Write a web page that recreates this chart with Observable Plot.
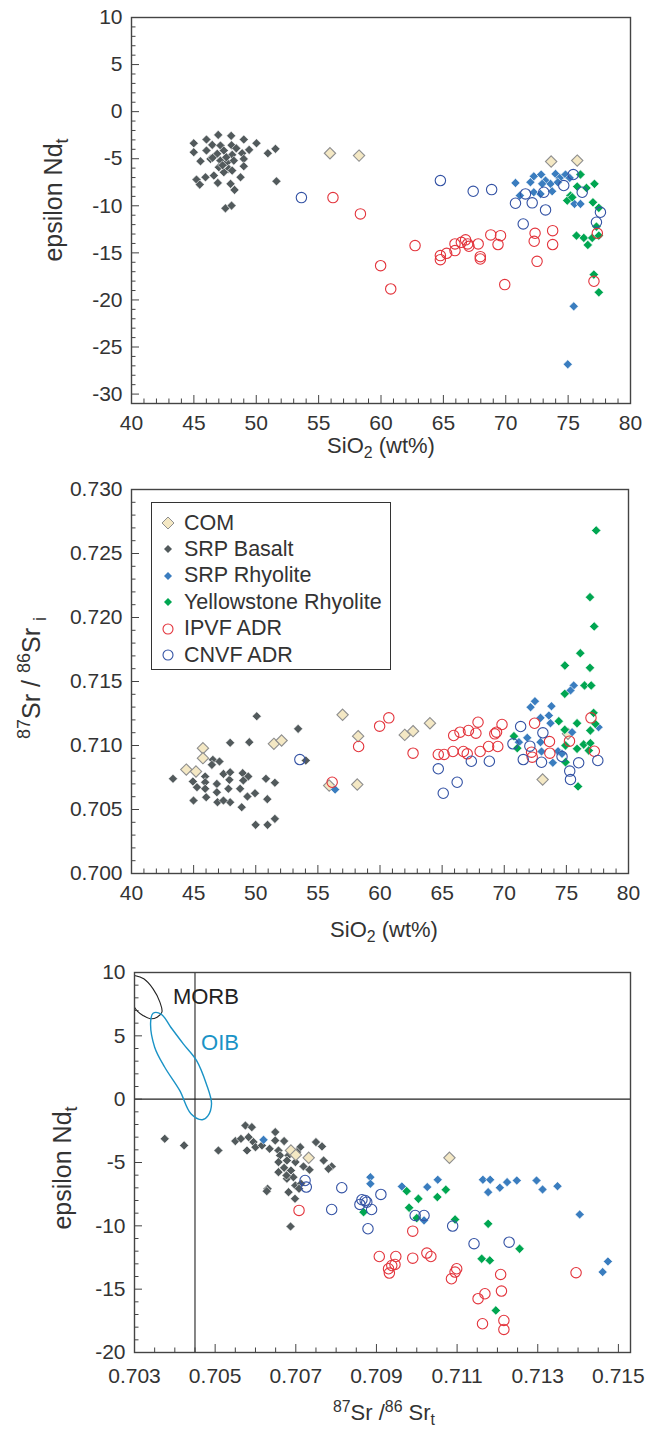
<!DOCTYPE html>
<html><head><meta charset="utf-8">
<script src="https://cdn.jsdelivr.net/npm/d3@7"></script>
<script src="https://cdn.jsdelivr.net/npm/@observablehq/plot@0.6"></script>
<style>
body{margin:0;background:#fff;font-family:"Liberation Sans",Arial,sans-serif;}
#wrap{position:relative;width:660px;height:1435px;overflow:hidden;}
.panel{position:absolute;left:0;}
.t{position:absolute;font-size:22px;color:#333;white-space:nowrap;transform:translate(-50%,-50%);line-height:1;}
.rot{transform:translate(-50%,-50%) rotate(-90deg);font-size:25px;}
.t sub,.t sup{font-size:0.72em;line-height:0;}
#legend{position:absolute;left:151px;top:502px;width:238px;height:166px;border:1.4px solid #333;background:#fff;}
.lrow{position:absolute;left:0;height:24px;display:flex;align-items:center;font-size:21.5px;color:#333;white-space:nowrap;}
.lrow svg{margin-left:8px;margin-right:8px;}
</style></head>
<body><div id="wrap"></div>
<script>
// ---------------- DATA ----------------
// Panel 1: SiO2 (wt%) vs epsilon Nd
const p1Basalt = [[46.95,-2.47],[47.99,-2.57],[49.0,-2.96],[46.01,-2.96],[44.99,-3.36],[50.02,-3.36],[46.47,-3.53],[47.13,-3.6],[48.02,-3.57],[51.54,-3.95],[50.93,-4.42],[44.99,-4.31],[46.01,-4.13],[46.87,-4.48],[47.4,-4.13],[48.07,-4.59],[48.87,-4.42],[49.43,-4.06],[45.53,-5.27],[46.33,-5.02],[47.13,-5.2],[47.67,-5.38],[48.2,-5.2],[49.0,-5.02],[47.0,-5.91],[47.8,-6.08],[49.0,-5.8],[47.4,-6.44],[48.07,-6.26],[48.74,-6.97],[45.21,-7.22],[45.47,-7.75],[45.93,-6.97],[46.6,-6.79],[46.92,-7.57],[47.94,-7.67],[48.26,-8.31],[51.62,-7.4],[47.53,-10.27],[48.02,-9.98],[46.5,-4.9],[47.6,-4.85],[48.4,-3.9],[47.3,-5.7]];
const p1Com = [[55.91,-4.42],[58.24,-4.67],[73.64,-5.3],[75.73,-5.2]];
const p1SrpRhy = [[70.78,-7.57],[72.25,-6.87],[72.84,-6.68],[73.19,-7.32],[73.99,-6.61],[74.33,-7.04],[74.79,-6.68],[75.13,-7.04],[72.92,-7.67],[73.59,-7.67],[74.17,-7.5],[72.25,-8.56],[72.79,-8.74],[73.72,-8.46],[71.13,-8.92],[75.51,-9.8],[75.99,-9.8],[71.98,-7.5],[75.45,-20.68],[74.97,-26.84]];
const p1Yell = [[75.99,-6.68],[75.73,-7.96],[76.47,-8.1],[77.11,-7.67],[75.19,-8.92],[74.93,-9.45],[75.33,-9.1],[76.99,-9.63],[77.46,-10.22],[75.67,-13.17],[76.26,-13.41],[76.93,-13.41],[76.58,-14.16],[77.27,-12.21],[77.46,-13.17],[77.06,-17.31],[77.46,-19.19]];
const p1Ipvf = [[56.15,-9.13],[58.35,-10.86],[62.73,-14.23],[59.97,-16.36],[60.78,-18.83],[64.76,-15.29],[64.76,-15.72],[65.26,-15.05],[65.93,-14.76],[65.93,-14.05],[66.44,-13.88],[66.78,-13.62],[66.95,-14.05],[67.05,-14.3],[67.79,-14.05],[67.96,-15.4],[67.96,-15.65],[68.8,-13.09],[69.38,-14.12],[69.58,-13.17],[69.92,-18.37],[72.35,-12.92],[72.28,-13.77],[72.51,-15.9],[73.76,-12.64],[73.76,-14.12],[77.07,-18.02],[77.34,-12.92]];
const p1Cnvf = [[53.62,-9.13],[64.76,-7.32],[67.39,-8.46],[68.87,-8.28],[70.78,-9.73],[71.58,-8.74],[72.12,-9.69],[73.19,-10.44],[71.4,-11.93],[73.05,-8.56],[74.65,-7.85],[75.41,-6.68],[76.13,-8.56],[77.59,-10.69],[77.27,-11.75]];

// Panel 2: SiO2 (wt%) vs 87Sr/86Sr i
const p2Basalt = [[50.08,0.71229],[47.94,0.71021],[49.48,0.71026],[53.41,0.7113],[43.34,0.7074],[44.94,0.70719],[45.93,0.70758],[46.55,0.70888],[47.08,0.70875],[46.47,0.70849],[48.95,0.70784],[49.4,0.70758],[50.82,0.7074],[51.54,0.70709],[44.99,0.7057],[46.01,0.70596],[46.92,0.70557],[47.94,0.70557],[48.87,0.70518],[49.33,0.70601],[49.94,0.70627],[50.93,0.70581],[49.99,0.7038],[50.95,0.7038],[51.54,0.70427],[45.93,0.70713],[46.87,0.707],[47.88,0.70732],[47.8,0.70662],[46.87,0.70635],[45.93,0.70662],[45.27,0.70674],[47.4,0.70778],[47.94,0.70791],[48.74,0.70662],[47.4,0.7057],[49.0,0.70727],[54.03,0.70883]];
const p2Com = [[45.75,0.70979],[45.75,0.70901],[44.41,0.70812],[45.19,0.70797],[51.46,0.71013],[52.08,0.71039],[56.99,0.7124],[58.24,0.71073],[58.17,0.70695],[55.91,0.70687],[61.99,0.71083],[62.66,0.71112],[64.02,0.71174],[73.09,0.70734],[75.13,0.71091]];
const p2SrpRhy = [[56.39,0.70656],[75.59,0.71469],[75.33,0.7143],[72.47,0.71346],[72.12,0.71299],[73.8,0.71307],[73.59,0.71234],[72.92,0.71216],[73.72,0.71174],[71.85,0.7106],[71.18,0.71026],[72.92,0.71026],[73.0,0.70953],[74.33,0.70955],[73.91,0.70865],[75.46,0.71104],[77.59,0.71143],[74.65,0.70935]];
const p2Yell = [[77.4,0.7268],[76.9,0.72159],[77.24,0.7193],[76.12,0.71721],[74.88,0.71625],[76.9,0.71607],[76.46,0.71469],[77.0,0.71469],[74.87,0.71404],[77.19,0.71255],[74.39,0.7119],[75.86,0.71174],[77.33,0.71169],[74.87,0.71123],[76.93,0.71117],[70.78,0.71073],[71.05,0.70979],[74.93,0.71],[76.39,0.71008],[76.93,0.71018],[75.86,0.70974],[74.93,0.70869],[75.94,0.7068],[76.8,0.70961]];
const p2Ipvf = [[56.15,0.70713],[58.28,0.70992],[59.97,0.71151],[60.71,0.71216],[62.66,0.7094],[64.69,0.7093],[65.16,0.7093],[65.87,0.70953],[65.93,0.71078],[66.44,0.71104],[66.71,0.70953],[67.02,0.70935],[67.12,0.71117],[67.72,0.71096],[67.89,0.71182],[68.06,0.70953],[68.74,0.70992],[69.24,0.71091],[69.38,0.71104],[69.48,0.70992],[69.82,0.71164],[72.44,0.71174],[73.64,0.71031],[72.2,0.70948],[72.25,0.70909],[73.67,0.7094],[75.25,0.71034],[76.98,0.71216],[77.25,0.70955]];
const p2Cnvf = [[53.55,0.7089],[64.69,0.70818],[65.09,0.70627],[66.21,0.70713],[67.35,0.70877],[68.8,0.70877],[71.32,0.71148],[70.7,0.71013],[73.11,0.71099],[72.06,0.70995],[71.53,0.7089],[73.0,0.70869],[74.65,0.70914],[75.27,0.708],[75.33,0.70734],[75.99,0.70865],[77.53,0.70883]];

// Panel 3: 87Sr/86Sr t vs epsilon Nd t
const p3Basalt = [[0.70375,-3.13],[0.70423,-3.65],[0.70508,-4.05],[0.70575,-2.08],[0.70591,-2.21],[0.7055,-3.31],[0.70564,-3.13],[0.70583,-3.0],[0.70595,-3.39],[0.70579,-4.05],[0.706,-3.79],[0.70616,-3.65],[0.70635,-3.92],[0.70649,-2.6],[0.70649,-3.26],[0.70671,-3.31],[0.70657,-4.05],[0.70661,-4.44],[0.70682,-4.44],[0.70657,-4.97],[0.70678,-4.84],[0.70699,-4.97],[0.70711,-3.79],[0.70703,-4.18],[0.70671,-5.42],[0.70657,-5.76],[0.70688,-5.63],[0.70719,-5.31],[0.70734,-5.57],[0.7075,-3.39],[0.70765,-3.73],[0.70769,-4.84],[0.70789,-5.31],[0.70781,-5.5],[0.70678,-6.28],[0.70694,-6.16],[0.70699,-6.81],[0.7063,-7.07],[0.70677,-6.02],[0.70628,-7.26],[0.70682,-7.34],[0.70698,-7.86],[0.70713,-6.68],[0.70708,-7.07],[0.70687,-10.05]];
const p3Com = [[0.70688,-4.05],[0.707,-4.4],[0.70732,-4.63],[0.71081,-4.63]];
const p3SrpRhy = [[0.7062,-3.21],[0.70885,-6.16],[0.70885,-6.68],[0.70963,-6.89],[0.71026,-6.94],[0.71052,-6.36],[0.71164,-6.36],[0.71182,-6.36],[0.71177,-7.34],[0.71206,-6.99],[0.71224,-6.55],[0.71248,-6.42],[0.71297,-6.42],[0.71312,-7.13],[0.71349,-6.87],[0.71404,-9.1],[0.71474,-12.81],[0.71461,-13.65],[0.71018,-9.57]];
const p3Yell = [[0.70868,-8.92],[0.70975,-7.26],[0.71004,-7.86],[0.70981,-8.57],[0.71,-9.39],[0.71051,-7.73],[0.71072,-7.15],[0.71095,-9.5],[0.71177,-9.84],[0.71161,-12.6],[0.71181,-12.73],[0.71196,-16.68],[0.71255,-11.81]];
const p3Ipvf = [[0.7099,-10.42],[0.70907,-12.42],[0.70948,-12.42],[0.7099,-12.55],[0.71025,-12.15],[0.71035,-12.42],[0.7093,-13.39],[0.70938,-13.13],[0.70946,-13.05],[0.70932,-13.73],[0.71099,-13.39],[0.71095,-13.65],[0.71086,-14.18],[0.71169,-15.36],[0.71152,-15.75],[0.71163,-17.73],[0.70708,-8.78],[0.71208,-13.84],[0.7121,-15.15],[0.71216,-17.47],[0.71216,-18.18],[0.71395,-13.7]];
const p3Cnvf = [[0.70814,-6.99],[0.70789,-8.71],[0.70864,-7.94],[0.70872,-8.0],[0.70859,-8.31],[0.70876,-8.13],[0.70888,-8.71],[0.70911,-7.52],[0.70879,-10.23],[0.70996,-9.18],[0.71018,-9.18],[0.71089,-10.02],[0.71142,-11.41],[0.71229,-11.29],[0.70726,-6.94],[0.70723,-6.42]];
// reference fields (outlines) and lines in panel 3
const morbOutline = [[0.703,9.76],[0.70323,9.5],[0.70346,8.71],[0.70363,7.66],[0.70368,6.87],[0.70356,6.47],[0.70339,6.35],[0.70321,6.61],[0.70307,6.95],[0.703,7.26]];
const oibOutline = [[0.70346,6.78],[0.70340,6.08],[0.70350,4.1],[0.70375,2.52],[0.70412,0.69],[0.70440,-1.15],[0.70468,-1.62],[0.70482,-1.32],[0.70491,-0.36],[0.70478,1.22],[0.70454,3.05],[0.70421,4.37],[0.70390,5.68],[0.70366,6.72]];
const bulkEarthSr = 0.7045, churNd = 0;
const fieldLabels = [{x:0.70477, y:8.1, t:"MORB", c:"#222"},{x:0.70512, y:4.4, t:"OIB", c:"#1a93c6"}];

// tick labels
const siTicks = [40,45,50,55,60,65,70,75,80];
const nd1Ticks = [10,5,0,-5,-10,-15,-20,-25,-30];
const srTicks = [0.700,0.705,0.710,0.715,0.720,0.725,0.730];
const sr3Ticks = [0.703,0.705,0.707,0.709,0.711,0.713,0.715];
const nd3Ticks = [10,5,0,-5,-10,-15,-20];
const legendNames = ["COM","SRP Basalt","SRP Rhyolite","Yellowstone Rhyolite","IPVF ADR","CNVF ADR"];

// ---------------- STYLES ----------------
const ST = {
  com:   {symbol:"diamond2", r:5.1, fill:"#f4e8c4", stroke:"#8e8e8e", strokeWidth:1.1},
  basalt:{symbol:"diamond2", r:4.1, fill:"#525a5c", stroke:"#fff", strokeWidth:0.6},
  srp:   {symbol:"diamond2", r:4.1, fill:"#3a7dbf", stroke:"#fff", strokeWidth:0.6},
  yell:  {symbol:"diamond2", r:4.2, fill:"#00a651", stroke:"#fff", strokeWidth:0.6},
  ipvf:  {symbol:"circle", r:5.2, fill:"none", stroke:"#e3343c", strokeWidth:1.1},
  cnvf:  {symbol:"circle", r:5.2, fill:"none", stroke:"#3352a4", strokeWidth:1.1}
};
const dots = (pts, st) => Plot.dot(pts, {x: d => d[0], y: d => d[1], ...st});
const near = (v, arr) => arr.some(m => Math.abs(m - v) < 1e-9);

function panel(o) {
  const iw = o.width - o.ml - o.mr, ih = o.height - o.mt - o.mb;
  const xu = (o.xDom[1] - o.xDom[0]) / iw, yu = (o.yDom[1] - o.yDom[0]) / ih;
  return Plot.plot({
    width: o.width, height: o.height,
    marginTop: o.mt, marginBottom: o.mb, marginLeft: o.ml, marginRight: o.mr,
    x: {domain: o.xDom}, y: {domain: o.yDom},
    style: {fontFamily: "Liberation Sans, Arial, sans-serif", fontSize: "21px", background: "transparent", overflow: "visible", color: "#333"},
    marks: [
      ...o.marks,
      Plot.ruleX(o.xMinor, {x: d => d, y1: o.yDom[0], y2: d => o.yDom[0] + (near(d, o.xLab) ? 8 : 4.5) * yu, stroke: "#444", strokeWidth: 1}),
      Plot.ruleY(o.yMinor, {y: d => d, x1: o.xDom[0], x2: d => o.xDom[0] + (near(d, o.yLab) ? 8 : 4.5) * xu, stroke: "#444", strokeWidth: 1}),
      Plot.frame({stroke: "#444", strokeWidth: 1.4}),
      Plot.axisX({ticks: o.xLab, tickSize: 0, tickPadding: o.xPad, tickFormat: o.xFmt, fontSize: 21, fill: "#333", label: null}),
      Plot.axisY({ticks: o.yLab, tickSize: 0, tickPadding: 9, tickFormat: o.yFmt, fontSize: 21, fill: "#333", label: null})
    ]
  });
}

const wrap = document.getElementById("wrap");
function place(svg, top) { svg.classList.add("panel"); svg.style.top = top + "px"; wrap.appendChild(svg); }
const plain = d => String(d);
const f3 = d3.format(".3f");

// Panel 1
place(panel({
  width: 660, height: 460, mt: 17, mb: 57, ml: 131, mr: 30, xPad: 12,
  xDom: [40, 80], yDom: [-31, 10],
  xLab: siTicks, yLab: nd1Ticks, xFmt: plain, yFmt: plain,
  xMinor: d3.range(40, 81, 1), yMinor: d3.range(-31, 11, 1),
  marks: [dots(p1Basalt, ST.basalt), dots(p1Com, ST.com), dots(p1SrpRhy, ST.srp), dots(p1Yell, ST.yell), dots(p1Ipvf, ST.ipvf), dots(p1Cnvf, ST.cnvf)]
}), 0);

// Panel 2
place(panel({
  width: 660, height: 490, mt: 29, mb: 77, ml: 131, mr: 32, xPad: 12,
  xDom: [40, 80], yDom: [0.700, 0.730],
  xLab: siTicks, yLab: srTicks, xFmt: plain, yFmt: f3,
  xMinor: d3.range(40, 81, 1), yMinor: d3.range(0, 31).map(i => 0.700 + i * 0.001),
  marks: [dots(p2Basalt, ST.basalt), dots(p2Com, ST.com), dots(p2SrpRhy, ST.srp), dots(p2Yell, ST.yell), dots(p2Ipvf, ST.ipvf), dots(p2Cnvf, ST.cnvf)]
}), 460);

// Panel 3
place(panel({
  width: 660, height: 485, mt: 22, mb: 83, ml: 134, mr: 30, xPad: 16,
  xDom: [0.703, 0.7153], yDom: [-20, 10],
  xLab: sr3Ticks, yLab: nd3Ticks, xFmt: f3, yFmt: plain,
  xMinor: d3.range(0, 25).map(i => 0.703 + i * 0.0005), yMinor: d3.range(-20, 11, 1),
  marks: [
    Plot.ruleX([bulkEarthSr], {stroke: "#222", strokeWidth: 1.1}),
    Plot.ruleY([churNd], {stroke: "#222", strokeWidth: 1.1}),
    Plot.line(morbOutline, {x: d => d[0], y: d => d[1], curve: "catmull-rom", stroke: "#222", strokeWidth: 1.1, clip: true}),
    Plot.line(oibOutline, {x: d => d[0], y: d => d[1], curve: "catmull-rom-closed", stroke: "#1a93c6", strokeWidth: 1.4, clip: true}),
    Plot.text(fieldLabels, {x: "x", y: "y", text: "t", fill: "c", fontSize: 22, textAnchor: "middle"}),
    dots(p3Basalt, ST.basalt), dots(p3Com, ST.com), dots(p3SrpRhy, ST.srp), dots(p3Yell, ST.yell), dots(p3Ipvf, ST.ipvf), dots(p3Cnvf, ST.cnvf)
  ]
}), 950);

// Axis titles (HTML text)
function title(html, x, y, rot) {
  const d = document.createElement("div");
  d.className = "t" + (rot ? " rot" : "");
  d.style.left = x + "px"; d.style.top = y + "px";
  d.innerHTML = html; wrap.appendChild(d);
}
title("SiO<sub>2</sub> (wt%)", 381, 446);
title("epsilon Nd<sub>t</sub>", 53, 200, true);
title("SiO<sub>2</sub> (wt%)", 384, 930);
title("<sup>87</sup>Sr / <sup>86</sup>Sr <sub>i</sub>", 31, 678, true);
title("<sup>87</sup>Sr /<sup>86</sup> Sr<sub>t</sub>", 384, 1413);
title("epsilon Nd<sub>t</sub>", 62, 1168, true);

// Legend
const lg = document.createElement("div"); lg.id = "legend"; wrap.appendChild(lg);
const legStyles = [ST.com, ST.basalt, ST.srp, ST.yell, ST.ipvf, ST.cnvf];
legendNames.forEach((name, i) => {
  const st = legStyles[i];
  const row = document.createElement("div"); row.className = "lrow";
  row.style.top = (8 + i * 26.4) + "px";
  const shape = st.symbol === "circle"
    ? `<circle cx="8" cy="8" r="5" fill="none" stroke="${st.stroke}" stroke-width="1.1"/>`
    : (i === 0 ? `<polygon points="8,2 14,8 8,14 2,8" fill="${st.fill}" stroke="${st.stroke}" stroke-width="1"/>`
               : `<polygon points="8,4 12,8 8,12 4,8" fill="${st.fill}"/>`);
  row.innerHTML = `<svg width="16" height="16">${shape}</svg><span>${name}</span>`;
  lg.appendChild(row);
});
</script>
</body></html>
